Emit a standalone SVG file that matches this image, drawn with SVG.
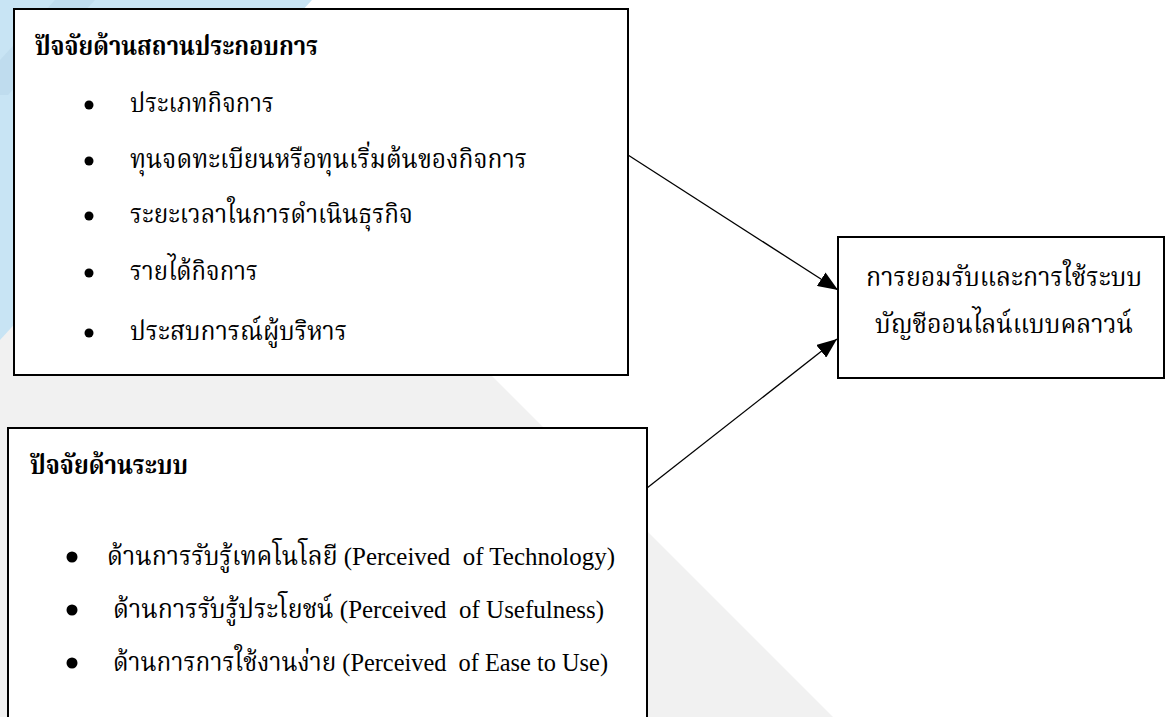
<svg xmlns="http://www.w3.org/2000/svg" width="1165" height="717" viewBox="0 0 1165 717">
  <style>
    .box { fill: #ffffff; stroke: #000000; stroke-width: 2; }
    .t { font-family: "Liberation Serif", "Noto Serif Thai", "Noto Sans Thai", serif; font-size: 26px; fill: #000000; white-space: pre; }
    .tb { font-family: "Liberation Serif", "Noto Serif Thai", "Noto Sans Thai", serif; font-size: 26px; font-weight: bold; fill: #000000; }
    .dot { fill: #000000; }
    .conn { stroke: #000000; stroke-width: 1.3; fill: none; marker-end: url(#arrow); }
  </style>
  <defs>
    <marker id="arrow" markerUnits="userSpaceOnUse" markerWidth="22" markerHeight="16" refX="20" refY="8" orient="auto">
      <path d="M0,0 L20,8 L0,16 Z" fill="#000000"/>
    </marker>
  </defs>
  <g id="background">
    <rect x="0" y="0" width="1165" height="717" fill="#ffffff"/>
    <polygon points="0,0 116,0 833,717 0,717" fill="#f1f1f1"/>
    <polygon points="0,0 312,0 0,340" fill="#c8e4f4"/>
    <polygon points="55,0 95,0 8,95 0,95 0,60" fill="#b9d7e9" opacity="0.6"/>
  </g>
  <g id="node-establishment">
    <rect class="box" x="14" y="9" width="614" height="366"/>
    <text class="tb" x="35" y="55" textLength="283" lengthAdjust="spacingAndGlyphs">ปัจจัยด้านสถานประกอบการ</text>
    <circle class="dot" cx="89" cy="105" r="4.5"/>
    <text class="t" x="130" y="112" textLength="144" lengthAdjust="spacingAndGlyphs">ประเภทกิจการ</text>
    <circle class="dot" cx="89" cy="161" r="4.5"/>
    <text class="t" x="130" y="168" textLength="397" lengthAdjust="spacingAndGlyphs">ทุนจดทะเบียนหรือทุนเริ่มต้นของกิจการ</text>
    <circle class="dot" cx="89" cy="216" r="4.5"/>
    <text class="t" x="130" y="223" textLength="283" lengthAdjust="spacingAndGlyphs">ระยะเวลาในการดำเนินธุรกิจ</text>
    <circle class="dot" cx="89" cy="273" r="4.5"/>
    <text class="t" x="130" y="280" textLength="128" lengthAdjust="spacingAndGlyphs">รายได้กิจการ</text>
    <circle class="dot" cx="89" cy="333" r="4.5"/>
    <text class="t" x="130" y="340" textLength="217" lengthAdjust="spacingAndGlyphs">ประสบการณ์ผู้บริหาร</text>
  </g>
  <g id="node-system">
    <rect class="box" x="8" y="428" width="639" height="300"/>
    <text class="tb" x="30" y="474" textLength="158" lengthAdjust="spacingAndGlyphs">ปัจจัยด้านระบบ</text>
    <circle class="dot" cx="72" cy="557" r="5.5"/>
    <text class="t" x="107" y="565" textLength="508" lengthAdjust="spacingAndGlyphs">ด้านการรับรู้เทคโนโลยี (Perceived  of Technology)</text>
    <circle class="dot" cx="72" cy="610" r="5.5"/>
    <text class="t" x="113" y="618" textLength="491" lengthAdjust="spacingAndGlyphs">ด้านการรับรู้ประโยชน์ (Perceived  of Usefulness)</text>
    <circle class="dot" cx="72" cy="663" r="5.5"/>
    <text class="t" x="113" y="671" textLength="495" lengthAdjust="spacingAndGlyphs">ด้านการการใช้งานง่าย (Perceived  of Ease to Use)</text>
  </g>
  <g id="node-acceptance">
    <rect class="box" x="838" y="237" width="326" height="141"/>
    <text class="t" x="866" y="286" textLength="276" lengthAdjust="spacingAndGlyphs">การยอมรับและการใช้ระบบ</text>
    <text class="t" x="875" y="333" textLength="258" lengthAdjust="spacingAndGlyphs">บัญชีออนไลน์แบบคลาวน์</text>
  </g>
  <g id="connectors">
    <line class="conn" x1="628" y1="155" x2="838" y2="290"/>
    <line class="conn" x1="647" y1="488" x2="837" y2="339"/>
  </g>
</svg>
